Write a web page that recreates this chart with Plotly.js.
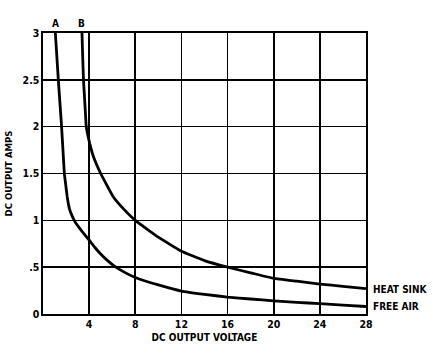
<!DOCTYPE html>
<html>
<head>
<meta charset="utf-8">
<script src="https://cdn.plot.ly/plotly-3.0.1.min.js"></script>
<style>html,body{margin:0;padding:0;background:#fff;}#chart{width:433px;height:353px;}</style>
</head>
<body>
<div id="chart"></div>
<script>
// Curve A : free air
var freeAirVolts = [1.07, 1.2, 1.33, 1.47, 1.61, 1.73, 1.85, 1.95, 2.1, 2.3, 2.55, 2.8, 3.4, 4, 4.5, 5, 5.5, 6.1, 7, 8, 10, 12, 14, 16, 18, 20, 22, 24, 26, 28];
var freeAirAmps  = [3.0, 2.75, 2.5, 2.25, 2.0, 1.75, 1.5, 1.4, 1.25, 1.12, 1.04, 0.98, 0.88, 0.79, 0.71, 0.64, 0.58, 0.52, 0.45, 0.39, 0.31, 0.245, 0.21, 0.18, 0.16, 0.14, 0.125, 0.11, 0.095, 0.08];
// Curve B : heat sink
var heatSinkVolts = [3.38, 3.44, 3.51, 3.63, 3.75, 3.9, 4.05, 4.4, 5.0, 6.1, 7, 8, 10, 12, 14, 16, 18, 20, 22, 24, 26, 28];
var heatSinkAmps  = [3.0, 2.75, 2.5, 2.25, 2.0, 1.9, 1.82, 1.67, 1.5, 1.25, 1.12, 1.0, 0.82, 0.67, 0.57, 0.5, 0.44, 0.38, 0.35, 0.32, 0.295, 0.27];

var xTickVals = [4, 8, 12, 16, 20, 24, 28];
var xTickText = ['4', '8', '12', '16', '20', '24', '28'];
var yTickVals = [0, 0.5, 1, 1.5, 2, 2.5, 3];
var yTickText = ['0', '.5', '1', '1.5', '2', '2.5', '3'];

var curveLabels = ['A', 'B'];
var seriesNames = ['FREE AIR', 'HEAT SINK'];

var FONT = 'DejaVu Sans Condensed, Liberation Sans Narrow, Arial Narrow, sans-serif';
function f(sz) { return {family: FONT, size: sz, color: '#000', weight: 'bold'}; }

var traces = [
  {x: freeAirVolts, y: freeAirAmps, mode: 'lines', name: seriesNames[0],
   line: {color: '#000', width: 2.8, shape: 'spline', smoothing: 0.3}, hoverinfo: 'skip'},
  {x: heatSinkVolts, y: heatSinkAmps, mode: 'lines', name: seriesNames[1],
   line: {color: '#000', width: 2.8, shape: 'spline', smoothing: 0.3}, hoverinfo: 'skip'}
];

var layout = {
  width: 433, height: 353,
  margin: {l: 43, r: 67, t: 33, b: 39},
  paper_bgcolor: '#fff', plot_bgcolor: '#fff',
  showlegend: false,
  font: f(10),
  xaxis: {
    range: [0, 28], tickvals: xTickVals, ticktext: xTickText,
    showgrid: true, gridcolor: '#000', gridwidth: 1.6,
    showline: true, linecolor: '#000', linewidth: 1.6, mirror: true,
    zeroline: false, ticks: '', ticklen: 0,
    tickfont: f(10.5),
    title: {text: 'DC OUTPUT VOLTAGE', font: f(10), standoff: 5}
  },
  yaxis: {
    range: [0, 3], tickvals: yTickVals, ticktext: yTickText,
    showgrid: true, gridcolor: '#000', gridwidth: 1.6,
    showline: true, linecolor: '#000', linewidth: 1.6, mirror: true,
    zeroline: false, ticks: '', ticklen: 0,
    tickfont: f(10.5),
    title: {text: 'DC OUTPUT AMPS', font: f(9.5), standoff: 8}
  },
  annotations: [
    {x: freeAirVolts[0], y: 3, xref: 'x', yref: 'y', text: curveLabels[0], showarrow: false,
     yanchor: 'bottom', yshift: 2, font: f(10)},
    {x: heatSinkVolts[0], y: 3, xref: 'x', yref: 'y', text: curveLabels[1], showarrow: false,
     yanchor: 'bottom', yshift: 2, font: f(10)},
    {x: 28, y: heatSinkAmps[heatSinkAmps.length - 1], xref: 'x', yref: 'y', text: seriesNames[1], showarrow: false,
     xanchor: 'left', xshift: 5, yshift: -1, font: f(10)},
    {x: 28, y: freeAirAmps[freeAirAmps.length - 1], xref: 'x', yref: 'y', text: seriesNames[0], showarrow: false,
     xanchor: 'left', xshift: 5, yshift: 0, font: f(10)}
  ]
};

Plotly.newPlot('chart', traces, layout, {displayModeBar: false, staticPlot: true});
</script>
</body>
</html>
